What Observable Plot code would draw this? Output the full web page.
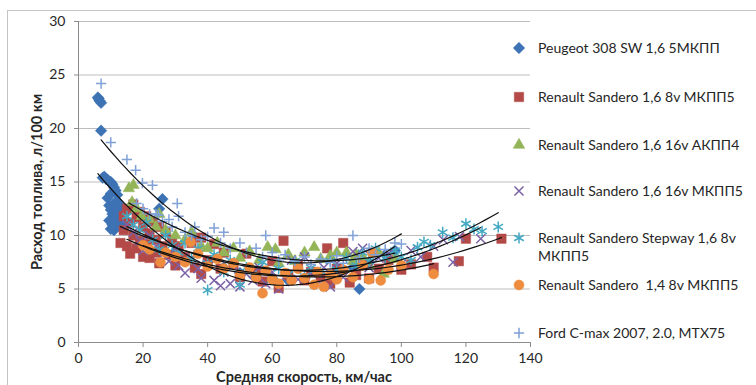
<!DOCTYPE html>
<html><head><meta charset="utf-8">
<script src="https://cdn.jsdelivr.net/npm/d3@7"></script>
<script src="https://cdn.jsdelivr.net/npm/@observablehq/plot@0.6"></script>
<style>
body{margin:0;background:#fff;}
#wrap{position:relative;width:756px;height:385px;overflow:hidden;background:#fff;font-family:Lato,"Open Sans",sans-serif;color:#262626;}
#frame{position:absolute;left:7px;top:10px;width:800px;height:420px;border:1px solid #c4c4c4;}
#chart{position:absolute;left:0;top:0;}
.leg{position:absolute;left:511px;font-size:14px;white-space:pre;line-height:18px;}
.leg svg{position:absolute;left:0;top:0;overflow:visible;}
.leg span{position:absolute;left:27px;}
.ttl{position:absolute;font-weight:bold;font-size:14.5px;white-space:nowrap;}
</style></head>
<body><div id="wrap"><div id="frame"></div><div id="chart"></div></div>
<script>
// ---- data (x: average speed km/h, y: fuel consumption l/100km) ----
const seriesNames = [
  "Peugeot 308 SW 1,6 5МКПП",
  "Renault Sandero 1,6 8v МКПП5",
  "Renault Sandero 1,6 16v АКПП4",
  "Renault Sandero 1,6 16v МКПП5",
  "Renault Sandero Stepway 1,6 8v МКПП5",
  "Renault Sandero  1,4 8v МКПП5",
  "Ford C-max 2007, 2.0, MTX75"
];
const peugeot = [[6,22.9],[6.2,22.8],[6.5,22.6],[7,22.4],[7,19.8],[7.5,15.4],[8,15.5],[8.5,15.3],[9,15.2],[10,15.0],[10.5,14.8],[11,14.5],[11.5,14.2],[12,13.8],[12,13.2],[13,12.8],[10,12.4],[10.5,12.0],[11,11.6],[11,11.2],[10,10.6],[11,10.5],[12,10.9],[13,11.5],[14,12.0],[15,11.0],[9,13.5],[9.5,12.8],[10,13.9],[11,13.0],[12,12.3],[13,12.0],[12.5,11.0],[9.5,11.4],[10.5,11.0],[13.5,10.8],[14,11.2],[26,13.4],[25,12.5],[35.6,10.0],[30,8.5],[40,7.5],[45,7.0],[50,6.5],[55,6.2],[60,6.0],[65,5.8],[70,6.0],[75,6.2],[80,6.5],[87,5.0],[85,7.0],[90,7.5],[95,8.2],[98,8.6]];
const sandero8v = [[13,9.3],[14,11.8],[14,10.5],[15,12.5],[15,9.0],[16,11.2],[16,8.3],[17,12.9],[17,10.0],[18,11.7],[18,8.8],[19,12.2],[19,9.5],[20,10.8],[20,8.0],[21,11.8],[21,9.2],[22,10.2],[22,7.9],[23,11.3],[24,9.6],[24,8.4],[25,10.8],[25,7.4],[26,9.0],[27,10.3],[28,8.2],[29,9.6],[30,7.2],[31,9.0],[33,8.0],[35,9.3],[36,7.0],[38,6.4],[38,9.8],[40,7.7],[42,9.2],[44,6.9],[45,8.4],[48,7.3],[50,6.1],[52,8.3],[55,6.7],[57,5.7],[60,7.6],[62,5.1],[63.5,9.5],[65,6.3],[68,7.2],[70,5.8],[72,6.6],[75,6.1],[77,8.8],[78,5.5],[80,6.9],[82,9.3],[84,5.6],[86,6.3],[88,7.4],[90,6.0],[93,6.9],[96,7.7],[100,6.8],[103,7.3],[108,8.0],[110,7.0],[117.8,7.6],[120,9.7],[131,9.7]];
const sandero16vAuto = [[15.6,14.4],[17,14.7],[16.6,13.1],[19.6,11.8],[18,12.5],[22,11.5],[24,10.8],[27,10.5],[25,12.0],[30,10.0],[33,9.6],[35,10.3],[38,9.0],[40,8.8],[43,9.3],[45,8.4],[48,8.8],[50,7.9],[53,8.5],[56,7.7],[58.6,8.9],[61,8.7],[62,7.4],[65,8.2],[67,7.6],[70,8.4],[73,8.9],[75,7.8],[78,8.1],[80,8.4],[83,8.4],[85,7.6],[86,8.2],[88,8.0],[90,7.2],[93,8.4],[94.5,6.4],[98,7.8]];
const sandero16vMan = [[15,11.0],[17,10.3],[19,9.5],[20,8.6],[22,10.0],[24,9.0],[26,8.2],[28,7.6],[30,8.8],[31,7.2],[33,6.5],[35,7.9],[37,6.9],[38,6.0],[40,7.3],[42,5.8],[44,5.3],[45,6.6],[47,5.5],[48,7.2],[50,5.2],[52,6.4],[54,5.8],[56,7.0],[58,5.5],[60,6.6],[62,5.0],[64,6.2],[66,7.7],[68,5.9],[70,8.0],[72,6.5],[74,5.4],[76,7.0],[78,5.2],[80,7.4],[82,6.1],[85,8.5],[88,8.8],[90,7.0],[93,7.9],[96,8.3],[100,7.3],[103,8.6],[106,8.0],[110,9.0],[113,9.6],[116,7.5],[118,9.9],[124.6,9.7]];
const stepway = [[15,11.8],[17,11.0],[19,10.5],[21,11.2],[23,9.6],[25,8.7],[27,10.0],[29,9.1],[31,8.4],[33,9.3],[35,7.8],[37,8.8],[40,4.9],[40,7.4],[42,8.2],[45,6.6],[47,7.7],[50,5.4],[52,7.0],[55,6.2],[57,7.5],[60,5.9],[62,6.9],[65,6.4],[67,7.6],[70,6.2],[72,7.0],[75,6.6],[78,7.6],[80,6.8],[83,7.9],[86,7.2],[88,8.4],[90,7.6],[92,8.8],[95,7.9],[98,8.6],[100,8.0],[103,7.7],[105,8.9],[107,9.4],[109,9.1],[112.8,10.3],[116,9.8],[120,11.1],[122.5,10.6],[125,10.4],[130,10.8]];
const sandero14 = [[20,9.1],[22,8.7],[25.4,7.5],[27,8.4],[30,8.0],[33,7.5],[34.7,9.4],[37,8.3],[40,7.1],[43,7.8],[45,6.9],[48,7.4],[50,6.3],[53,7.0],[55,6.1],[57,4.6],[58,6.7],[60,5.9],[62,5.5],[64,6.5],[66,5.8],[68,6.9],[70,6.0],[73,5.4],[74,6.6],[76,5.2],[78,6.3],[80,5.9],[82,6.8],[85,6.1],[88,7.2],[90,5.9],[91,8.4],[93.6,5.8],[96,6.8],[100,7.2],[110,6.4]];
const fordCmax = [[7,24.2],[10,18.7],[15,17.1],[17.7,16.1],[19.8,14.9],[22.9,14.7],[18,13.0],[20,12.5],[22,12.0],[24,12.0],[24.8,11.9],[26,11.3],[28,11.5],[29,10.8],[30.6,13.0],[31,11.8],[33,10.3],[35,10.0],[36,10.8],[38,9.6],[40,9.9],[42,10.7],[44,9.3],[45,10.3],[47,8.8],[50,9.3],[52,8.4],[55,8.8],[57,8.0],[58,10.0],[60,8.4],[62,7.7],[64,8.2],[67,7.6],[70,8.0],[72,7.3],[75,7.8],[78,7.5],[80,8.1],[82,7.4],[85,10.0],[87,7.9],[90,8.8],[92,8.2],[95,8.7],[98,9.3],[100,9.2]];
const xTicks = [0,20,40,60,80,100,120,140];
const yTicks = [0,5,10,15,20,25,30];
const xTitle = "Средняя скорость, км/час";
const yTitle = "Расход топлива, л/100 км";

// ---- styles ----
const styles = [
  {symbol:"diamond2", r:5.2, fill:"#3D72B4"},
  {symbol:"square", r:5.3, fill:"#B34A48"},
  {symbol:"triangle", r:4.3, fill:"#93B558"},
  {symbol:"times", r:4.2, stroke:"#7B62A6"},
  {symbol:"asterisk", r:5.2, stroke:"#43A9C3"},
  {symbol:"circle", r:5.0, fill:"#EE8C3F"},
  {symbol:"plus", r:3.4, stroke:"#7FA1D8"}
];
const allSeries = [peugeot, sandero8v, sandero16vAuto, sandero16vMan, stepway, sandero14, fordCmax];

// quadratic least-squares trend (as Excel polynomial trendline)
function quadFit(pts){
  const S=[0,0,0,0,0], T=[0,0,0];
  for (const [x,y] of pts){ let p=1; for(let k=0;k<5;k++){ S[k]+=p; if(k<3) T[k]+=p*y; p*=x; } }
  const A=[[S[0],S[1],S[2],T[0]],[S[1],S[2],S[3],T[1]],[S[2],S[3],S[4],T[2]]];
  for(let i=0;i<3;i++){ for(let j=i+1;j<3;j++){ const f=A[j][i]/A[i][i]; for(let k=i;k<4;k++) A[j][k]-=f*A[i][k]; } }
  const c=[0,0,0];
  for(let i=2;i>=0;i--){ let s=A[i][3]; for(let k=i+1;k<3;k++) s-=A[i][k]*c[k]; c[i]=s/A[i][i]; }
  const [x0,x1]=d3.extent(pts,d=>d[0]);
  const xs=d3.range(x0,x1,(x1-x0)/60).concat([x1]);
  return xs.map(x=>[x,c[0]+c[1]*x+c[2]*x*x]);
}

const marks = [
  Plot.gridY(yTicks.filter(t=>t>0), {stroke:"#bdbdbd", strokeOpacity:1, strokeWidth:1}),
  Plot.ruleY([0], {stroke:"#8c8c8c"}),
  Plot.ruleX([0], {stroke:"#8c8c8c"}),
  Plot.axisX({ticks:xTicks, tickSize:5, tickPadding:6, label:null, fontSize:14, stroke:"#8c8c8c"}),
  Plot.axisY({ticks:yTicks, tickSize:4, tickPadding:9, label:null, fontSize:14, stroke:"#8c8c8c"})
];
allSeries.forEach((s,i)=>{
  const st=styles[i];
  const o={x:d=>d[0], y:d=>d[1], symbol:()=>st.symbol, r:st.r};
  if(st.fill){ o.fill=st.fill; o.stroke=st.fill; o.strokeWidth=0.5; } else { o.stroke=st.stroke; o.strokeWidth=1.5; o.fill="none"; }
  marks.push(Plot.dot(s,o));
});
allSeries.forEach(s=>{
  marks.push(Plot.line(quadFit(s), {x:d=>d[0], y:d=>d[1], stroke:"#111", strokeWidth:1.2}));
});

const chart = Plot.plot({
  width:756, height:385,
  marginLeft:78, marginRight:226, marginTop:21, marginBottom:43,
  style:{fontFamily:"Lato, 'Open Sans', sans-serif", fontSize:"14px", color:"#262626", background:"transparent"},
  x:{domain:[0,140]},
  y:{domain:[0,30]},
  symbol:{type:"identity"},
  marks
});
document.getElementById("chart").appendChild(chart);

// ---- legend ----
const wrap=document.getElementById("wrap");
const legY=[48,97,145,191,238,285,333];
seriesNames.forEach((name,i)=>{
  const st=styles[i];
  const d=document.createElement("div");
  d.className="leg";
  d.style.top=(legY[i]-9)+"px";
  const symMap={diamond2:d3.symbolDiamond2,square:d3.symbolSquare,triangle:d3.symbolTriangle,times:d3.symbolTimes,asterisk:d3.symbolAsterisk,circle:d3.symbolCircle,plus:d3.symbolPlus};
  const path=d3.symbol(symMap[st.symbol], st.r*st.r*Math.PI)();
  const svg=`<svg width="16" height="18"><path transform="translate(8,9)" d="${path}" fill="${st.fill||'none'}" stroke="${st.fill||st.stroke}" stroke-width="${st.fill?0.5:1.5}"/></svg>`;
  const label = i===4 ? "Renault Sandero Stepway 1,6 8v\nМКПП5" : name;
  d.innerHTML=svg+`<span>${label}</span>`;
  wrap.appendChild(d);
});

// ---- axis titles ----
const xt=document.createElement("div");
xt.className="ttl"; xt.textContent=xTitle;
xt.style.left="304px"; xt.style.top="368px"; xt.style.transform="translateX(-50%)";
wrap.appendChild(xt);
const yt=document.createElement("div");
yt.className="ttl"; yt.textContent=yTitle;
yt.style.left="36px"; yt.style.top="182px"; yt.style.transform="translate(-50%,-50%) rotate(-90deg)";
wrap.appendChild(yt);
</script>
</body></html>
